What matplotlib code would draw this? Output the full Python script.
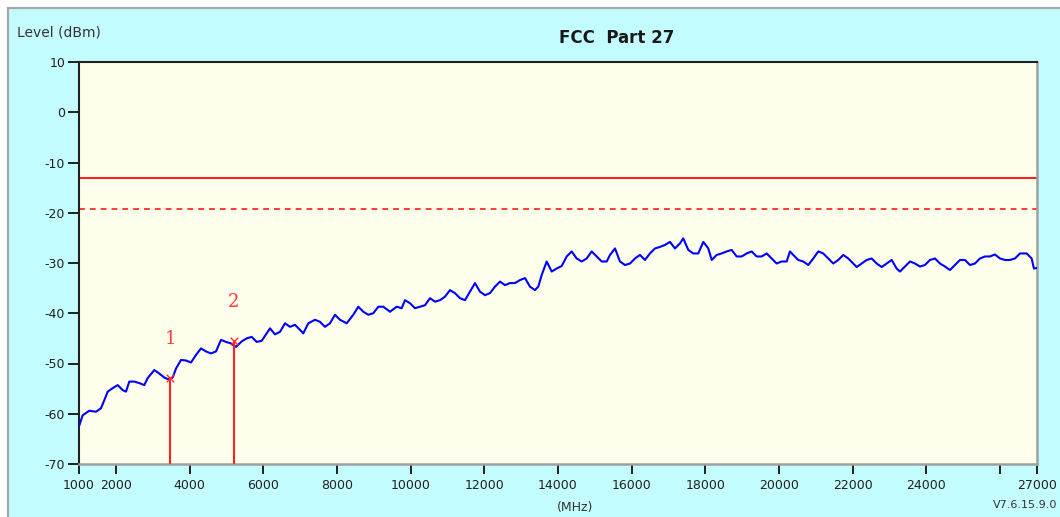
import matplotlib
matplotlib.use("Agg")
import matplotlib.pyplot as plt
from matplotlib.patches import Rectangle

plt.rcParams['axes.unicode_minus'] = False

# Trace (MHz, dBm)
freq = [1000, 1100, 1280, 1461, 1597, 1687, 1779, 1915, 2050, 2186, 2276, 2365,
        2501, 2637, 2772, 2864, 3044, 3179, 3315, 3407, 3543, 3633, 3768, 3904,
        4040, 4175, 4311, 4447, 4582, 4718, 4854, 4990, 5125, 5261, 5416, 5551,
        5687, 5823, 5958, 6094, 6184, 6319, 6455, 6591, 6726, 6862, 6998, 7087,
        7223, 7405, 7540, 7676, 7812, 7947, 8083, 8265, 8444, 8580, 8716, 8851,
        8987, 9123, 9259, 9440, 9622, 9758, 9847, 9983, 10119, 10254, 10390, 10526,
        10661, 10797, 10933, 11068, 11204, 11340, 11475, 11611, 11747, 11882, 12018, 12154,
        12289, 12425, 12561, 12696, 12832, 12968, 13104, 13239, 13375, 13465, 13557, 13693,
        13829, 13964, 14100, 14236, 14371, 14507, 14643, 14778, 14914, 15050, 15186, 15321,
        15411, 15547, 15682, 15818, 15954, 16089, 16225, 16361, 16496, 16632, 16768, 16903,
        17039, 17175, 17310, 17400, 17536, 17672, 17807, 17943, 18079, 18171, 18306, 18442,
        18578, 18713, 18849, 18985, 19120, 19256, 19392, 19527, 19663, 19799, 19934, 20070,
        20206, 20295, 20385, 20521, 20657, 20792, 20928, 21064, 21199, 21335, 21471, 21606,
        21742, 21878, 22013, 22106, 22242, 22377, 22513, 22649, 22784, 22920, 23056, 23191,
        23281, 23417, 23553, 23688, 23824, 23960, 24095, 24231, 24367, 24502, 24638, 24774,
        24909, 25045, 25181, 25317, 25452, 25588, 25724, 25859, 25995, 26131, 26266, 26402,
        26538, 26720, 26855, 26917, 27000]
level = [-62.5, -60.3, -59.4, -59.6, -58.9, -57.3, -55.6, -54.9, -54.3, -55.3, -55.6, -53.6,
         -53.6, -53.9, -54.3, -52.9, -51.3, -52.0, -52.8, -53.1, -52.8, -51.0, -49.3, -49.4,
         -49.8, -48.3, -47.0, -47.6, -48.0, -47.6, -45.3, -45.7, -46.0, -46.7, -45.6, -45.0,
         -44.7, -45.7, -45.5, -44.0, -43.0, -44.2, -43.7, -42.0, -42.7, -42.3, -43.3, -44.0,
         -42.0, -41.3, -41.7, -42.7, -42.0, -40.3, -41.3, -42.0, -40.3, -38.7, -39.7, -40.3,
         -40.0, -38.7, -38.7, -39.7, -38.7, -39.0, -37.4, -38.0, -39.0, -38.7, -38.4, -37.0,
         -37.7, -37.4, -36.7, -35.4, -36.0, -37.0, -37.4, -35.7, -34.0, -35.7, -36.4, -36.0,
         -34.7, -33.7, -34.4, -34.0, -34.0, -33.4, -33.0, -34.7, -35.4, -34.7, -32.4, -29.7,
         -31.7, -31.1, -30.6, -28.7, -27.7, -29.1, -29.7, -29.1, -27.7, -28.7, -29.7, -29.7,
         -28.4, -27.1, -29.7, -30.4, -30.1, -29.1, -28.4, -29.4, -28.1, -27.1, -26.8, -26.4,
         -25.8, -27.1, -26.1, -25.1, -27.4, -28.1, -28.1, -25.8, -27.1, -29.4, -28.4, -28.1,
         -27.7, -27.4, -28.7, -28.7, -28.1, -27.7, -28.7, -28.7, -28.1, -29.1, -30.1, -29.7,
         -29.7, -27.7, -28.4, -29.4, -29.7, -30.4, -29.1, -27.7, -28.1, -29.1, -30.1, -29.4,
         -28.4, -29.1, -30.1, -30.8, -30.1, -29.4, -29.1, -30.1, -30.8, -30.1, -29.4, -31.1,
         -31.7, -30.7, -29.7, -30.1, -30.7, -30.4, -29.4, -29.1, -30.1, -30.7, -31.4, -30.4,
         -29.4, -29.4, -30.4, -30.1, -29.1, -28.7, -28.7, -28.3, -29.1, -29.4, -29.4, -29.1,
         -28.1, -28.1, -29.1, -31.1, -31.0]

limit = -13.0
limit_margin = -19.25
marker_freq = [3470, 5200]
marker_level = [-52.9, -45.5]
marker_names = ["1", "2"]

xticks = [1000, 2000, 4000, 6000, 8000, 10000, 12000, 14000, 16000, 18000,
          20000, 22000, 24000, 26000, 27000]
xtick_labels = ["1000", "2000", "4000", "6000", "8000", "10000", "12000", "14000",
                "16000", "18000", "20000", "22000", "24000", "", "27000"]
yticks = [-70, -60, -50, -40, -30, -20, -10, 0, 10]

W, H = 1060, 517
fig = plt.figure(figsize=(W / 100, H / 100), dpi=100, facecolor="white")

# cyan panel with grey frame, kept behind the axes
fig.patches.append(Rectangle((8 / W, -0.01), 1.0, 1 - 8 / H + 0.01, transform=fig.transFigure,
                             facecolor="#C4FDFF", edgecolor="#A6A6A6", linewidth=1.6, zorder=-10))

ax = fig.add_axes([79 / W, 1 - 464 / H, (1037 - 79) / W, (464 - 62) / H])
ax.set_zorder(1)
ax.set_facecolor("#FEFEEC")

ax.plot(freq, level, color="#0000FF", linewidth=1.5, zorder=3)
ax.axhline(limit, color="#FF1A1A", linewidth=1.4, zorder=2)
ax.axhline(limit_margin, color="#FF1A1A", linewidth=1.2, dashes=(3.5, 3), zorder=2)

ax.vlines(marker_freq, -70, marker_level, color="#FF2020", linewidth=1.5, zorder=4)
ax.scatter(marker_freq, marker_level, marker="x", s=30, color="#FF3030", linewidths=1.0, zorder=5)
for f, l, name in zip(marker_freq, marker_level, marker_names):
    ax.annotate(name, (f, l), xytext=(0, 28), textcoords="offset points",
                ha="center", va="center", color="#FF3B3B", fontsize=13,
                family="DejaVu Serif")

ax.set_xlim(1000, 27000)
ax.set_ylim(-70, 10)
ax.set_xticks(xticks)
ax.set_xticklabels(xtick_labels)
ax.set_yticks(yticks)
ax.tick_params(axis="both", direction="out", color="#202020", labelcolor="#202020",
               labelsize=9, width=1.4)
ax.tick_params(axis="x", length=7, pad=4)
ax.tick_params(axis="y", length=8, pad=2)

for side in ["left", "top"]:
    ax.spines[side].set_color("#202020")
    ax.spines[side].set_linewidth(1.5)
for side in ["right", "bottom"]:
    ax.spines[side].set_color("#A0A0A0")
    ax.spines[side].set_linewidth(1.8)

fig.text(617 / W, 1 - 38 / H, "FCC  Part 27", ha="center", va="center",
         fontsize=12, fontweight="bold", color="#1A1A1A")
fig.text(17 / W, 1 - 33 / H, "Level (dBm)", ha="left", va="center",
         fontsize=10, color="#333333")
fig.text(575 / W, 1 - 507 / H, "(MHz)", ha="center", va="center",
         fontsize=9, color="#333333")
fig.text(993 / W, 1 - 505 / H, "V7.6.15.9.0", ha="left", va="center",
         fontsize=8, color="#333333")

fig.savefig("out.png", dpi=100, facecolor=fig.get_facecolor())
